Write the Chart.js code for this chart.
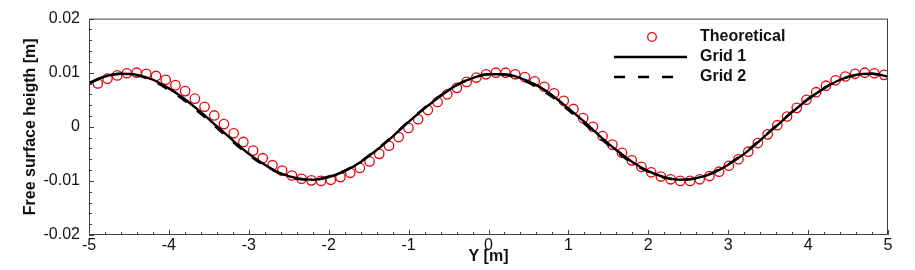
<!DOCTYPE html>
<html>
<head>
<meta charset="utf-8">
<script src="https://cdn.jsdelivr.net/npm/chart.js@4.4.1/dist/chart.umd.min.js"></script>
<style>
    html, body { margin: 0; padding: 0; background: #fff; }
    #wrap { width: 915px; height: 270px; position: relative; }
</style>
</head>
<body>
<div id="wrap"><canvas id="waveChart"></canvas></div>
<script>
// Theoretical (red circles)
const theoryX = [
    -4.890, -4.769, -4.647, -4.526, -4.404, -4.283, -4.161, -4.040, -3.918, -3.797,
    -3.675, -3.554, -3.432, -3.311, -3.189, -3.068, -2.946, -2.825, -2.703, -2.582,
    -2.460, -2.339, -2.217, -2.096, -1.974, -1.853, -1.731, -1.610, -1.488, -1.367,
    -1.245, -1.124, -1.002, -0.881, -0.759, -0.638, -0.516, -0.395, -0.273, -0.152,
    -0.030, 0.092, 0.213, 0.335, 0.456, 0.578, 0.699, 0.821, 0.942, 1.064,
    1.185, 1.307, 1.428, 1.550, 1.671, 1.793, 1.914, 2.036, 2.157, 2.279,
    2.400, 2.522, 2.643, 2.765, 2.886, 3.008, 3.129, 3.251, 3.372, 3.494,
    3.615, 3.737, 3.858, 3.980, 4.101, 4.223, 4.344, 4.466, 4.587, 4.709,
    4.830, 4.952
];
const theoryY = [
    0.0080, 0.0089, 0.0095, 0.0099, 0.0100, 0.0098, 0.0094, 0.0087, 0.0077, 0.0066,
    0.0052, 0.0037, 0.0021, 0.0005, -0.0012, -0.0028, -0.0044, -0.0058, -0.0071, -0.0081,
    -0.0090, -0.0096, -0.0099, -0.0100, -0.0098, -0.0093, -0.0085, -0.0076, -0.0064, -0.0050,
    -0.0035, -0.0019, -0.0002, 0.0014, 0.0031, 0.0046, 0.0060, 0.0072, 0.0083, 0.0091,
    0.0097, 0.0100, 0.0100, 0.0097, 0.0092, 0.0084, 0.0074, 0.0062, 0.0048, 0.0033,
    0.0016, 0.0000, -0.0017, -0.0033, -0.0048, -0.0062, -0.0074, -0.0084, -0.0092, -0.0097,
    -0.0100, -0.0100, -0.0097, -0.0091, -0.0083, -0.0072, -0.0060, -0.0046, -0.0030, -0.0014,
    0.0003, 0.0019, 0.0035, 0.0050, 0.0064, 0.0076, 0.0086, 0.0093, 0.0098, 0.0100,
    0.0099, 0.0096
];

// Grid 1 / Grid 2 (numerical)
const gridX = [
    -5.0, -4.8, -4.6, -4.4, -4.2, -4.0, -3.8, -3.6, -3.4, -3.2,
    -3.0, -2.8, -2.6, -2.4, -2.2, -2.0, -1.8, -1.6, -1.4, -1.2,
    -1.0, -0.8, -0.6, -0.4, -0.2, 0.0, 0.2, 0.4, 0.6, 0.8,
    1.0, 1.2, 1.4, 1.6, 1.8, 2.0, 2.2, 2.4, 2.6, 2.8,
    3.0, 3.2, 3.4, 3.6, 3.8, 4.0, 4.2, 4.4, 4.6, 4.8, 5.0
];
const grid1Y = [
    0.0081, 0.0093, 0.0098, 0.0096, 0.0087, 0.0071, 0.0051, 0.0027, 0.0001, -0.0025,
    -0.0050, -0.0070, -0.0086, -0.0095, -0.0098, -0.0093, -0.0082, -0.0065, -0.0043, -0.0018,
    0.0009, 0.0034, 0.0057, 0.0077, 0.0090, 0.0097, 0.0097, 0.0090, 0.0077, 0.0058,
    0.0034, 0.0009, -0.0018, -0.0043, -0.0065, -0.0082, -0.0093, -0.0098, -0.0095, -0.0086,
    -0.0070, -0.0050, -0.0025, 0.0001, 0.0027, 0.0051, 0.0071, 0.0087, 0.0096, 0.0098, 0.0093
];
const grid2Y = [
    0.0080, 0.0093, 0.0098, 0.0095, 0.0085, 0.0068, 0.0048, 0.0024, -0.0002, -0.0028,
    -0.0052, -0.0072, -0.0087, -0.0096, -0.0098, -0.0092, -0.0081, -0.0064, -0.0042, -0.0017,
    0.0010, 0.0035, 0.0058, 0.0077, 0.0090, 0.0097, 0.0096, 0.0088, 0.0074, 0.0055,
    0.0031, 0.0006, -0.0021, -0.0046, -0.0067, -0.0083, -0.0094, -0.0098, -0.0095, -0.0085,
    -0.0069, -0.0049, -0.0024, 0.0002, 0.0028, 0.0052, 0.0072, 0.0087, 0.0096, 0.0098, 0.0094
];

const seriesNames = ['Theoretical', 'Grid 1', 'Grid 2'];
const xTicks = [-5, -4, -3, -2, -1, 0, 1, 2, 3, 4, 5];
const yTicks = [-0.02, -0.01, 0, 0.01, 0.02];

const toPoints = (xs, ys) => xs.map((x, i) => ({ x: x, y: ys[i] }));
const FONT = 'Liberation Sans, Arial, Helvetica, sans-serif';
const frameColor = '#404040';

// frame, inward ticks and the legend inside the plot
const framePlugin = {
    id: 'frame',
    afterDatasetsDraw(chart) {
        const ctx = chart.ctx;
        const a = chart.chartArea;
        const xs = chart.scales.x, ys = chart.scales.y;
        ctx.save();
        ctx.strokeStyle = frameColor;
        ctx.lineWidth = 1;
        ctx.strokeRect(a.left + 0.5, a.top + 0.5, a.right - a.left - 1, a.bottom - a.top - 1);

        ctx.beginPath();
        // x ticks: major every 1, minor every 0.2
        for (let k = 0; k <= 50; k++) {
            const v = -5 + k * 0.2;
            const px = Math.round(xs.getPixelForValue(v)) + 0.5;
            const len = (k % 5 === 0) ? 5 : 3;
            ctx.moveTo(px, a.bottom);
            ctx.lineTo(px, a.bottom - len);
        }
        // y ticks: major every 0.01, minor every 0.002
        for (let k = 0; k <= 20; k++) {
            const v = -0.02 + k * 0.002;
            const py = Math.round(ys.getPixelForValue(v)) + 0.5;
            const len = (k % 5 === 0) ? 5 : 3;
            ctx.moveTo(a.left, py);
            ctx.lineTo(a.left + len, py);
        }
        ctx.stroke();
        ctx.restore();
    },
    afterDraw(chart) {
        const ctx = chart.ctx;
        const ds = chart.data.datasets;
        ctx.save();
        // Theoretical
        ctx.strokeStyle = ds[0].borderColor;
        ctx.lineWidth = ds[0].borderWidth;
        ctx.beginPath();
        ctx.arc(652, 37, 4.3, 0, Math.PI * 2);
        ctx.stroke();
        // Grid 1
        ctx.strokeStyle = ds[1].borderColor;
        ctx.lineWidth = 2.5;
        ctx.beginPath();
        ctx.moveTo(614, 57);
        ctx.lineTo(687, 57);
        ctx.stroke();
        // Grid 2
        ctx.setLineDash([11, 13]);
        ctx.beginPath();
        ctx.moveTo(614, 77);
        ctx.lineTo(674, 77);
        ctx.stroke();
        ctx.setLineDash([]);

        ctx.fillStyle = '#111';
        ctx.font = 'bold 16px ' + FONT;
        ctx.textBaseline = 'middle';
        ctx.textAlign = 'left';
        ctx.fillText(seriesNames[0], 700, 37);
        ctx.fillText(seriesNames[1], 700, 57);
        ctx.fillText(seriesNames[2], 700, 77);
        ctx.restore();
    }
};

const ctx = document.getElementById('waveChart').getContext('2d');
new Chart(ctx, {
    type: 'line',
    data: {
        datasets: [
            {
                label: seriesNames[0],
                data: toPoints(theoryX, theoryY),
                showLine: false,
                borderColor: '#e8000b',
                backgroundColor: 'rgba(0,0,0,0)',
                borderWidth: 1.3,
                pointRadius: 4.7,
                pointStyle: 'circle',
                order: 3
            },
            {
                label: seriesNames[1],
                data: toPoints(gridX, grid1Y),
                borderColor: '#000',
                borderWidth: 2.4,
                pointRadius: 0,
                cubicInterpolationMode: 'monotone',
                order: 1
            },
            {
                label: seriesNames[2],
                data: toPoints(gridX, grid2Y),
                borderColor: '#000',
                borderWidth: 2.4,
                borderDash: [11, 13],
                pointRadius: 0,
                cubicInterpolationMode: 'monotone',
                order: 2
            }
        ]
    },
    options: {
        responsive: true,
        maintainAspectRatio: false,
        animation: false,
        layout: { padding: { left: 0, top: 12, right: 27, bottom: 0 } },
        plugins: {
            legend: { display: false },
            tooltip: { enabled: false }
        },
        scales: {
            x: {
                type: 'linear',
                min: -5,
                max: 5,
                afterFit: s => { s.height = 35; },
                afterBuildTicks: s => { s.ticks = xTicks.map(v => ({ value: v })); },
                grid: { display: false, drawTicks: false },
                border: { display: false },
                ticks: {
                    padding: 1,
                    color: '#111',
                    font: { family: FONT, size: 16 },
                    maxRotation: 0,
                    callback: v => String(v)
                },
                title: {
                    display: true,
                    text: 'Y [m]',
                    color: '#111',
                    font: { family: FONT, size: 16, weight: 'bold' },
                    padding: { top: 0, bottom: 4 }
                }
            },
            y: {
                type: 'linear',
                min: -0.02,
                max: 0.02,
                afterFit: s => { s.width = 89; },
                afterBuildTicks: s => { s.ticks = yTicks.map(v => ({ value: v })); },
                grid: { display: false, drawTicks: false },
                border: { display: false },
                ticks: {
                    padding: 9,
                    color: '#111',
                    font: { family: FONT, size: 16 },
                    callback: v => String(Number(v.toFixed(2)))
                },
                title: {
                    display: true,
                    text: 'Free surface heigth [m]',
                    color: '#111',
                    font: { family: FONT, size: 16, weight: 'bold' },
                    padding: { top: 21, bottom: 0 }
                }
            }
        }
    },
    plugins: [framePlugin]
});
</script>
</body>
</html>
